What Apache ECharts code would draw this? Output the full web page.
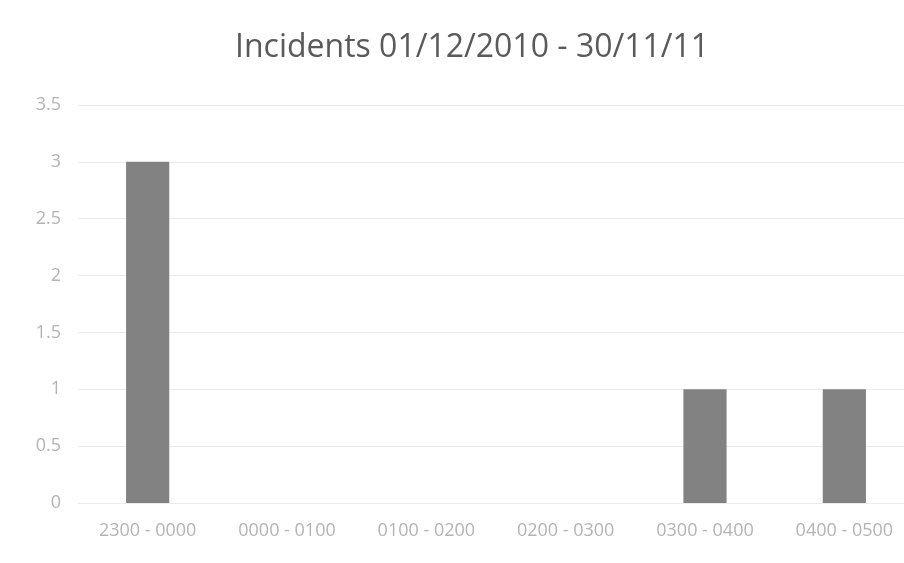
<!DOCTYPE html>
<html>
<head>
<meta charset="utf-8">
<script src="https://cdn.jsdelivr.net/npm/echarts@6/dist/echarts.min.js"></script>
<style>
  html, body { margin: 0; padding: 0; background: #fff; overflow: hidden; }
  #chart { width: 924px; height: 563px; }
</style>
</head>
<body>
<div id="chart"></div>
<script>
// Incident counts per hour band
const categories = ['2300 - 0000', '0000 - 0100', '0100 - 0200', '0200 - 0300', '0300 - 0400', '0400 - 0500'];
const incidents = [3, 0, 0, 0, 1, 1];
const yTicks = { min: 0, max: 3.5, interval: 0.5 };

const chart = echarts.init(document.getElementById('chart'), null, { renderer: 'canvas' });
chart.setOption({
  backgroundColor: '#ffffff',
  animation: false,
  title: {
    text: 'Incidents 01/12/2010 - 30/11/11',
    left: 230,
    top: 27,
    textStyle: { fontFamily: 'Open Sans', fontWeight: 'normal', fontSize: 32, color: '#5a5a5a' }
  },
  grid: { left: 78, right: 10, top: 105, bottom: 60, containLabel: false },
  xAxis: {
    type: 'category',
    data: categories,
    axisLine: { show: false },
    axisTick: { show: false },
    axisLabel: { color: '#b4b4b4', fontSize: 18, fontFamily: 'Open Sans', margin: 19 }
  },
  yAxis: {
    type: 'value',
    min: yTicks.min,
    max: yTicks.max,
    interval: yTicks.interval,
    axisLine: { show: false },
    axisTick: { show: false },
    axisLabel: { color: '#b4b4b4', fontSize: 18, fontFamily: 'Open Sans', margin: 17 },
    splitLine: { lineStyle: { color: '#ebebeb', width: 1 } }
  },
  series: [{
    type: 'bar',
    data: incidents,
    barWidth: '31%',
    itemStyle: { color: '#828282' }
  }]
});
</script>
</body>
</html>
